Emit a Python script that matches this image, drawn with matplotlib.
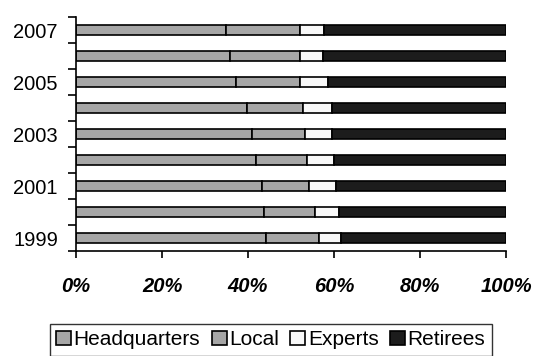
import matplotlib
matplotlib.use("Agg")
import matplotlib.pyplot as plt
import numpy as np

years = ["1999", "2000", "2001", "2002", "2003", "2004", "2005", "2006", "2007"]
headquarters = [44.2, 43.7, 43.3, 41.9, 41.0, 39.8, 37.1, 35.8, 34.9]
local = [12.3, 11.9, 10.9, 11.8, 12.3, 13.1, 15.0, 16.3, 17.2]
experts = [5.1, 5.6, 6.3, 6.3, 6.2, 6.6, 6.6, 5.3, 5.6]
retirees = [100 - h - l - e for h, l, e in zip(headquarters, local, experts)]
series_names = ["Headquarters", "Local", "Experts", "Retirees"]
x_ticks = [0, 20, 40, 60, 80, 100]
x_tick_labels = ["0%", "20%", "40%", "60%", "80%", "100%"]

plt.rcParams['font.family'] = ['Liberation Sans', 'DejaVu Sans']

fig = plt.figure(figsize=(5.36, 3.56), dpi=100)
ax = fig.add_axes([76/536, 1 - 251/356, 430/536, 234/356])

colors = ["#a6a6a6", "#a6a6a6", "#f8f8f8", "#1c1c1c"]
data = [headquarters, local, experts, retirees]
y = np.arange(len(years))
left = np.zeros(len(years))
handles = []
for name, vals, c in zip(series_names, data, colors):
    b = ax.barh(y, vals, left=left, height=0.42, color=c, edgecolor="black",
                linewidth=1.2, label=name)
    handles.append(b)
    left += np.array(vals)

ax.set_xlim(0, 100)
ax.set_ylim(-0.5, len(years) - 0.5)

for s in ["top", "right"]:
    ax.spines[s].set_visible(False)
for s in ["left", "bottom"]:
    ax.spines[s].set_linewidth(1.2)

ax.set_xticks(x_ticks)
ax.set_xticklabels(x_tick_labels, fontsize=14.5, fontweight="bold", fontstyle="italic")
ax.tick_params(axis="x", direction="out", length=5, width=1.2, pad=13.5)

ax.set_yticks(np.arange(-0.5, len(years), 1.0))
ax.set_yticklabels([])
ax.set_yticks(y[::2], minor=True)
ax.set_yticklabels([years[i] for i in range(0, len(years), 2)], minor=True, fontsize=14.5)
ax.tick_params(axis="y", which="major", direction="out", length=6, width=1.2)
ax.tick_params(axis="y", which="minor", length=0, pad=13)

leg = fig.legend(handles=handles, labels=series_names, loc="upper center",
                 bbox_to_anchor=(0.505, 1 - 324/356), ncol=4, fontsize=15,
                 frameon=True, fancybox=False, edgecolor="black",
                 handlelength=0.72, handleheight=0.72, handletextpad=0.12,
                 columnspacing=0.55, borderpad=0.3, borderaxespad=0)
leg.get_frame().set_linewidth(1.0)

fig.savefig("out.png", dpi=100, facecolor="white")
